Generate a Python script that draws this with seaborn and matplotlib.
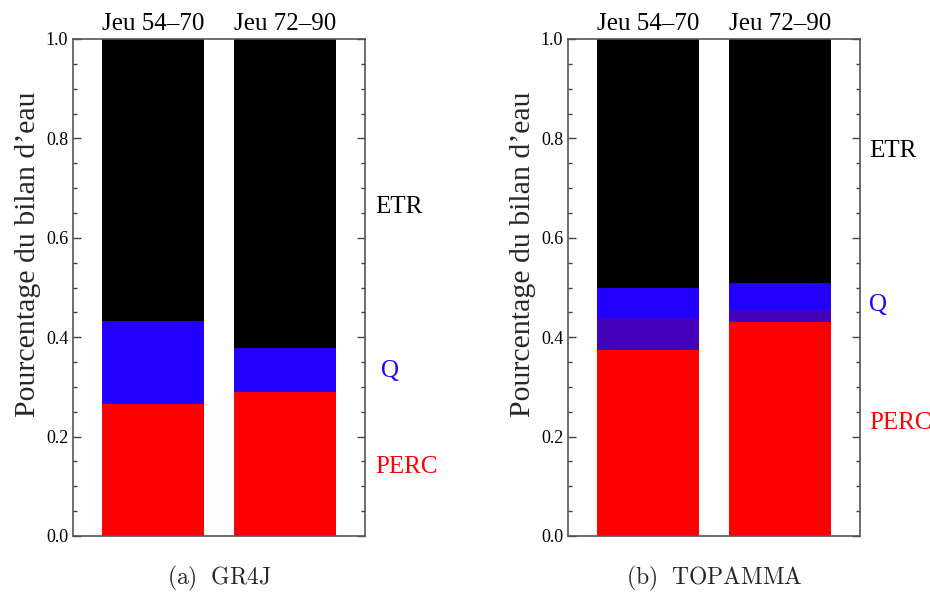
import numpy as np
import pandas as pd
import seaborn as sns
import matplotlib.pyplot as plt
from matplotlib.ticker import MultipleLocator

# Data (fractions of the water balance)
categories = ["Jeu 54\u201370", "Jeu 72\u201390"]

gr4j_perc = [0.266, 0.290]
gr4j_q = [0.167, 0.088]

topamma_perc = [0.374, 0.431]
topamma_overlap = [0.065, 0.024]   # purple band where Q and PERC overlap
topamma_q = [0.060, 0.054]

BLACK = "#000000"
BLUE = "#2200ff"
PURPLE = "#4400bb"
RED = "#ff0000"

sns.set_style("ticks")
plt.rcParams["font.family"] = ["Liberation Serif", "DejaVu Serif"]
plt.rcParams["mathtext.fontset"] = "cm"


def draw_panel(ax, layers, labels, caption):
    # layers: list of (cumulative top values, colour), drawn tallest first
    for tops, col in layers:
        df = pd.DataFrame({"jeu": categories, "val": tops})
        sns.barplot(data=df, x="jeu", y="val", color=col, saturation=1,
                    width=0.773, linewidth=0, ax=ax)
    ax.set_xlim(-0.606, 1.606)
    ax.set_ylim(0, 1)
    ax.set_xlabel("")
    ax.set_ylabel("Pourcentage du bilan d\u2019eau", fontsize=21.5)
    ax.yaxis.set_label_coords(-0.108, 0.567)

    ax.yaxis.set_major_locator(MultipleLocator(0.2))
    ax.yaxis.set_minor_locator(MultipleLocator(0.05))
    ax.yaxis.set_major_formatter(plt.FuncFormatter(lambda v, p: f"{v:.1f}"))
    ax.tick_params(axis="y", which="both", direction="in", left=True, right=True,
                   colors="#444444", labelcolor="black", labelsize=13)
    ax.tick_params(axis="y", which="major", length=6, width=1)
    ax.tick_params(axis="y", which="minor", length=3, width=1)
    ax.tick_params(axis="x", which="both", direction="in", bottom=True, top=False,
                   labelbottom=False, labeltop=True, length=6, colors="#444444",
                   labelcolor="black", labelsize=18, pad=3)
    for s in ax.spines.values():
        s.set_visible(True)
        s.set_color("#555555")
        s.set_linewidth(1.2)

    for txt, col, x, y in labels:
        ax.text(x, y, txt, color=col, fontsize=18, transform=ax.transAxes,
                ha="left", va="center")
    ax.text(0.5, -0.085, caption, transform=ax.transAxes, ha="center",
            va="center", fontsize=17)


fig = plt.figure(figsize=(9.3, 5.97), dpi=100)
ax1 = fig.add_axes([73 / 930, 61 / 597, 292 / 930, 497 / 597])
ax2 = fig.add_axes([568 / 930, 61 / 597, 292 / 930, 497 / 597])

g_red = np.array(gr4j_perc)
g_blue = g_red + np.array(gr4j_q)
draw_panel(
    ax1,
    [(np.ones(2), BLACK), (g_blue, BLUE), (g_red, RED)],
    [("ETR", "black", 1.035, 0.662), ("Q", BLUE, 1.055, 0.331), ("PERC", RED, 1.035, 0.139)],
    r"$\mathrm{(a)\ \ GR4J}$",
)

t_red = np.array(topamma_perc)
t_purple = t_red + np.array(topamma_overlap)
t_blue = t_purple + np.array(topamma_q)
draw_panel(
    ax2,
    [(np.ones(2), BLACK), (t_blue, BLUE), (t_purple, PURPLE), (t_red, RED)],
    [("ETR", "black", 1.031, 0.775), ("Q", BLUE, 1.031, 0.465), ("PERC", RED, 1.031, 0.227)],
    r"$\mathrm{(b)\ \ TOPAMMA}$",
)

fig.savefig("out.png", dpi=100)
